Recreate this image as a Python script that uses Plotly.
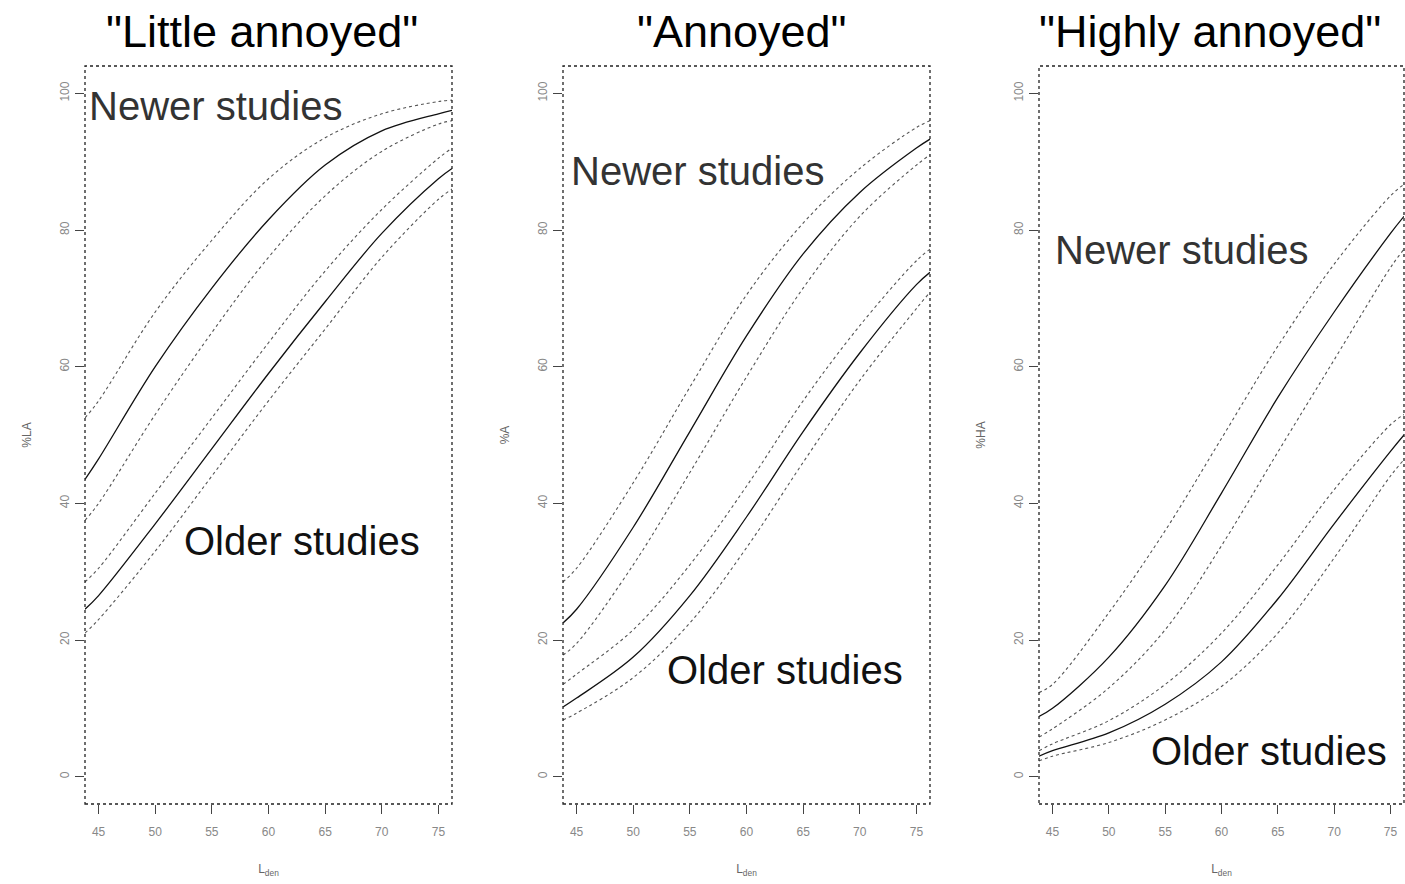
import plotly.graph_objects as go

# Noise level grid (dB, Lden) at which curves were read
lden = [43.8, 45, 50, 55, 60, 65, 70, 75, 76.2]

# "Little annoyed" (%LA)
la_new_mid = [43.5, 46.5, 60.0, 71.5, 81.5, 89.5, 94.5, 97.0, 97.5]
la_new_hi = [52.5, 55.0, 68.0, 78.5, 87.5, 93.5, 97.0, 98.8, 99.0]
la_new_lo = [37.5, 40.0, 53.0, 65.0, 76.0, 85.0, 91.5, 95.5, 96.0]
la_old_mid = [24.5, 26.5, 37.0, 48.0, 59.0, 69.5, 79.5, 87.5, 89.0]
la_old_hi = [28.5, 30.5, 41.5, 52.5, 63.5, 74.0, 83.0, 90.5, 92.0]
la_old_lo = [21.0, 23.0, 33.0, 44.0, 55.0, 65.5, 76.0, 84.5, 86.0]

# "Annoyed" (%A)
a_new_mid = [22.5, 24.5, 36.5, 50.5, 64.5, 76.5, 85.5, 92.0, 93.3]
a_new_hi = [28.5, 30.5, 43.0, 57.0, 70.5, 81.0, 89.0, 95.0, 96.0]
a_new_lo = [17.8, 19.5, 31.0, 44.5, 58.5, 71.5, 82.0, 89.5, 91.0]
a_old_mid = [10.2, 11.5, 17.5, 26.5, 38.0, 50.5, 62.0, 72.0, 73.8]
a_old_hi = [13.5, 15.0, 21.5, 31.0, 42.5, 55.0, 66.0, 75.5, 77.2]
a_old_lo = [8.3, 9.3, 14.5, 22.5, 33.5, 46.0, 58.0, 68.5, 70.9]

# "Highly annoyed" (%HA)
ha_new_mid = [8.8, 10.0, 17.5, 28.0, 41.5, 55.5, 68.0, 79.5, 82.0]
ha_new_hi = [12.3, 13.5, 24.0, 36.0, 49.5, 63.0, 75.0, 85.0, 86.7]
ha_new_lo = [5.8, 7.0, 13.0, 21.5, 33.8, 47.5, 61.0, 74.5, 77.2]
ha_old_mid = [3.0, 3.8, 6.4, 10.6, 16.8, 26.0, 37.0, 47.6, 50.0]
ha_old_hi = [3.8, 4.8, 8.2, 13.5, 21.0, 31.0, 42.0, 51.5, 53.0]
ha_old_lo = [2.3, 3.0, 5.0, 8.3, 13.2, 21.0, 32.0, 44.0, 46.4]

panel_titles = ['"Little annoyed"', '"Annoyed"', '"Highly annoyed"']
y_titles = ["%LA", "%A", "%HA"]
x_ticks = [45, 50, 55, 60, 65, 70, 75]
y_ticks = [0, 20, 40, 60, 80, 100]

panels = [
    (la_new_mid, la_new_hi, la_new_lo, la_old_mid, la_old_hi, la_old_lo),
    (a_new_mid, a_new_hi, a_new_lo, a_old_mid, a_old_hi, a_old_lo),
    (ha_new_mid, ha_new_hi, ha_new_lo, ha_old_mid, ha_old_hi, ha_old_lo),
]

W, H = 1405, 884
boxes_px = [(85, 452), (563, 930), (1039, 1404)]
top_px, bot_px = 66, 804
title_px = [262, 742, 1210]
newer_lab = [(87, 106), (569, 171), (1053, 250)]
older_lab = [(182, 541), (665, 670), (1149, 751)]

fig = go.Figure()
for i, series in enumerate(panels):
    xa = "x" if i == 0 else f"x{i+1}"
    ya = "y" if i == 0 else f"y{i+1}"
    mid_n, hi_n, lo_n, mid_o, hi_o, lo_o = series
    for vals, is_mid in [(hi_n, False), (mid_n, True), (lo_n, False),
                         (hi_o, False), (mid_o, True), (lo_o, False)]:
        fig.add_trace(go.Scatter(
            x=lden, y=vals, mode="lines", xaxis=xa, yaxis=ya,
            line=dict(color="#111" if is_mid else "#555",
                      width=1.3 if is_mid else 1.1,
                      dash="solid" if is_mid else "dot",
                      shape="spline", smoothing=1.0),
            showlegend=False, hoverinfo="skip"))

    x0, x1 = boxes_px[i]
    dom_x = [x0 / W, x1 / W]
    dom_y = [1 - bot_px / H, 1 - top_px / H]
    axis_common = dict(showgrid=False, zeroline=False, showline=False,
                       ticks="outside", ticklen=9, tickwidth=1,
                       tickcolor="#444", tickfont=dict(size=12, color="#888",
                                                       family="Liberation Sans"))
    fig.layout[f"xaxis{'' if i == 0 else i+1}"] = dict(
        domain=dom_x, range=[43.8, 76.2], anchor=ya, tickvals=x_ticks,
        ticklabelstandoff=8,
        title=dict(text="L<sub>den</sub>", font=dict(size=12, color="#666"), standoff=26),
        **axis_common)
    fig.layout[f"yaxis{'' if i == 0 else i+1}"] = dict(
        domain=dom_y, range=[-4, 104], anchor=xa, tickvals=y_ticks, tickangle=-90,
        ticklabelstandoff=1,
        title=dict(text=y_titles[i], font=dict(size=12, color="#666"), standoff=24),
        **axis_common)

    fig.add_shape(type="rect", xref=f"{xa} domain", yref=f"{ya} domain",
                  x0=0, x1=1, y0=0, y1=1,
                  line=dict(color="#222", width=1.3, dash="dot"))

    fig.add_annotation(text=panel_titles[i], xref="paper", yref="paper",
                       x=title_px[i] / W, y=1 - 32 / H, showarrow=False,
                       xanchor="center", yanchor="middle",
                       font=dict(size=45, color="#000", family="Liberation Sans"))
    nx, ny = newer_lab[i]
    fig.add_annotation(text="Newer studies", xref="paper", yref="paper",
                       x=nx / W, y=1 - ny / H, showarrow=False,
                       xanchor="left", yanchor="middle",
                       font=dict(size=40, color="#333", family="Liberation Sans"))
    ox, oy = older_lab[i]
    fig.add_annotation(text="Older studies", xref="paper", yref="paper",
                       x=ox / W, y=1 - oy / H, showarrow=False,
                       xanchor="left", yanchor="middle",
                       font=dict(size=40, color="#111", family="Liberation Sans"))

fig.update_layout(width=W, height=H, margin=dict(l=0, r=0, t=0, b=0),
                  paper_bgcolor="white", plot_bgcolor="white",
                  font=dict(family="Liberation Sans"))

fig.write_html("out.html")
